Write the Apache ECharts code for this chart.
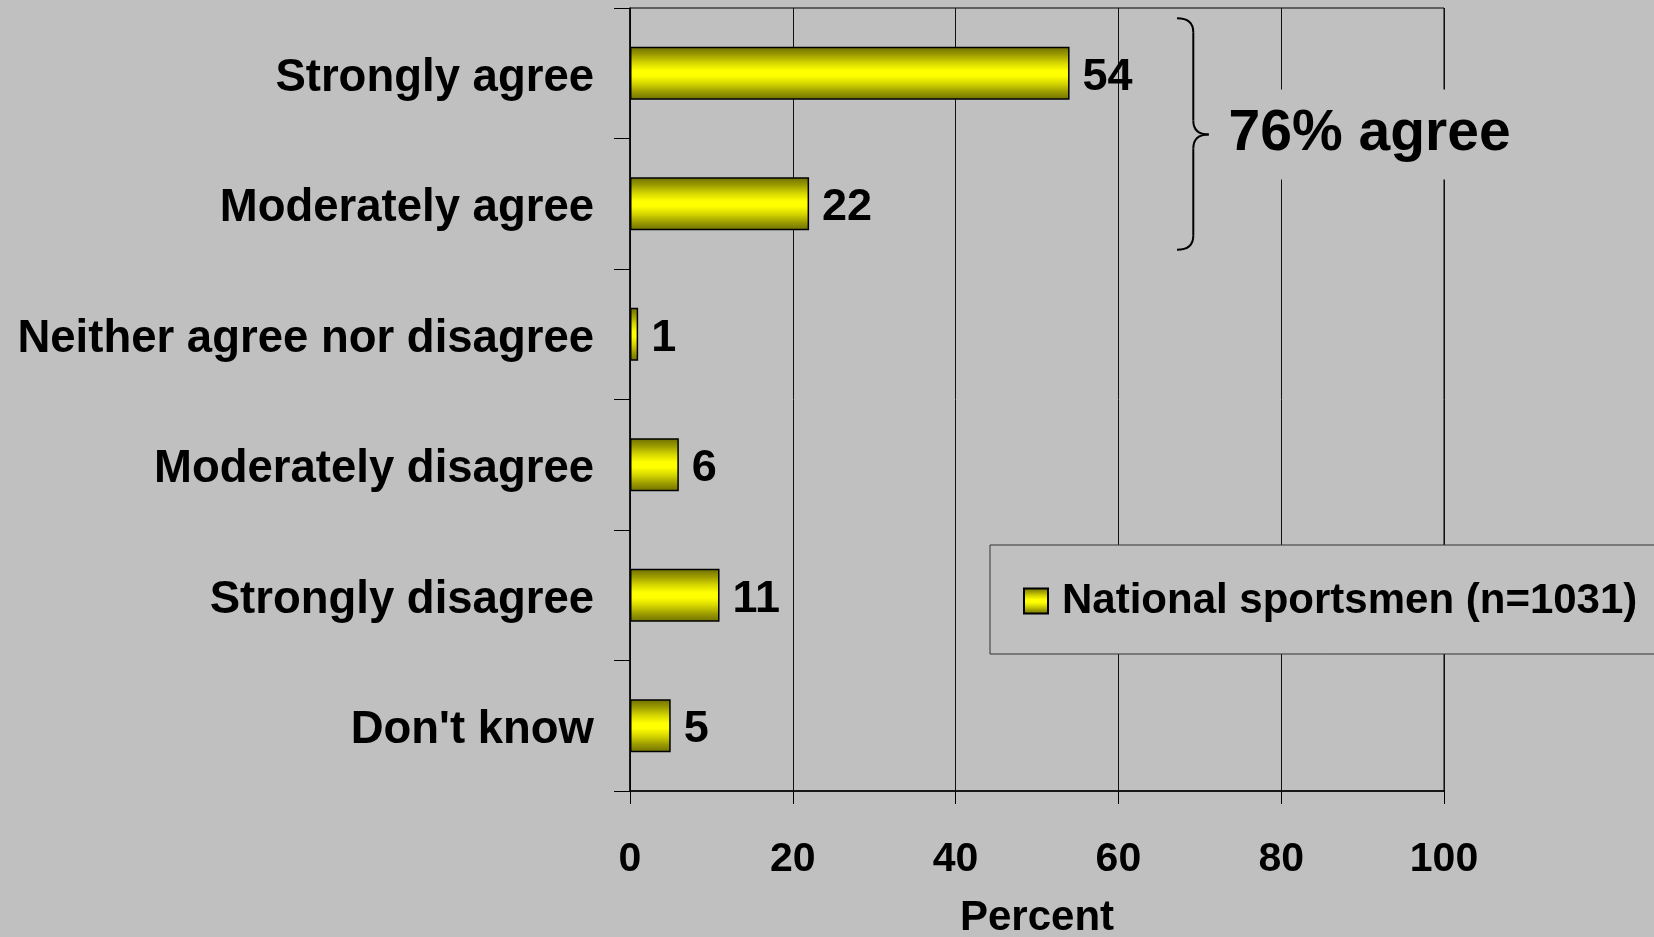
<!DOCTYPE html>
<html>
<head>
<meta charset="utf-8">
<script src="https://cdn.jsdelivr.net/npm/echarts@6/dist/echarts.min.js"></script>
<style>
html,body{margin:0;padding:0;background:#c0c0c0;}
#chart{width:1654px;height:937px;}
</style>
</head>
<body>
<div id="chart"></div>
<script>
const categories = ['Strongly agree', 'Moderately agree', 'Neither agree nor disagree', 'Moderately disagree', 'Strongly disagree', "Don't know"];
const values = [54, 22, 1, 6, 11, 5];
const seriesName = 'National sportsmen (n=1031)';
const xTicks = [0, 20, 40, 60, 80, 100];
const axisName = 'Percent';
const annotationText = '76% agree';

const FONT = '"Liberation Sans", Arial, sans-serif';
const barFill = new echarts.graphic.LinearGradient(0, 0, 0, 1, [
  {offset: 0, color: '#6e6e00'},
  {offset: 0.15, color: '#9c9c00'},
  {offset: 0.3, color: '#d4d400'},
  {offset: 0.45, color: '#ffff00'},
  {offset: 0.55, color: '#ffff00'},
  {offset: 0.7, color: '#d4d400'},
  {offset: 0.85, color: '#9c9c00'},
  {offset: 1, color: '#6e6e00'}
]);

const chart = echarts.init(document.getElementById('chart'), null, {renderer: 'canvas'});
const option = {
  backgroundColor: '#c0c0c0',
  animation: false,
  textStyle: {fontFamily: FONT},
  grid: {
    left: 630, top: 8, right: 210, bottom: 146,
    outerBoundsMode: 'none',
    show: true, borderColor: '#000', borderWidth: 1, backgroundColor: '#c0c0c0'
  },
  legend: {
    left: 990, top: 545,
    padding: [31, 40, 28, 33],
    backgroundColor: '#c0c0c0',
    borderColor: '#333', borderWidth: 1,
    itemWidth: 24, itemHeight: 25,
    icon: 'rect',
    textStyle: {fontSize: 42, fontWeight: 'bold', color: '#000', fontFamily: FONT, padding: [8, 0, 0, 9], lineHeight: 42},
    data: [seriesName]
  },
  xAxis: {
    type: 'value', min: xTicks[0], max: xTicks[xTicks.length - 1], interval: xTicks[1] - xTicks[0],
    name: axisName, nameLocation: 'middle', nameGap: 106,
    nameTextStyle: {fontSize: 42, fontWeight: 'bold', color: '#000', fontFamily: FONT},
    axisLine: {show: true, lineStyle: {color: '#000', width: 1.5}},
    axisTick: {show: true, length: 13, lineStyle: {color: '#000', width: 1}},
    axisLabel: {fontSize: 41, fontWeight: 'bold', color: '#000', margin: 48, fontFamily: FONT},
    splitLine: {show: true, lineStyle: {color: '#111', width: 1}}
  },
  yAxis: {
    type: 'category', data: categories, inverse: true,
    axisLine: {show: true, lineStyle: {color: '#000', width: 1.5}},
    axisTick: {show: true, length: 16, interval: 0, lineStyle: {color: '#000', width: 1}},
    axisLabel: {
      color: '#000', margin: 36,
      formatter: v => '{c|' + v + '}',
      rich: {c: {fontSize: 45.5, fontWeight: 'bold', color: '#000', fontFamily: FONT, lineHeight: 56, verticalAlign: 'bottom'}}
    },
    splitLine: {show: false}
  },
  series: [{
    name: seriesName,
    type: 'bar',
    data: values,
    barWidth: 53,
    itemStyle: {color: barFill, borderColor: '#000', borderWidth: 1.5},
    label: {show: true, position: 'right', distance: 13, offset: [0, 4], fontSize: 45, fontWeight: 'bold', color: '#000', fontFamily: FONT}
  }]
};
chart.setOption(option);

// brace + annotation positioned through the chart's own scales
function drawAnnotation() {
  const p = (x, cat) => chart.convertToPixel({gridIndex: 0}, [x, cat]);
  const c0 = p(67.2, categories[0]);
  const c1 = p(67.2, categories[1]);
  const x0 = c0[0];
  const xm = p(69.2, categories[0])[0];
  const xt = p(71.1, categories[0])[0];
  const yTop = c0[1] - 55;
  const yBot = c1[1] + 46;
  const yMid = (c0[1] + c1[1]) / 2 - 4;
  const r = 14;
  const st = {stroke: '#000', lineWidth: 2, fill: null};
  const tx = p(72.8, categories[0])[0];
  chart.setOption({
    graphic: [
      {type: 'bezierCurve', shape: {x1: x0, y1: yTop, x2: xm, y2: yTop + r, cpx1: xm, cpy1: yTop}, style: st, z: 10},
      {type: 'line', shape: {x1: xm, y1: yTop + r, x2: xm, y2: yMid - r}, style: st, z: 10},
      {type: 'bezierCurve', shape: {x1: xm, y1: yMid - r, x2: xt, y2: yMid, cpx1: xm, cpy1: yMid}, style: st, z: 10},
      {type: 'bezierCurve', shape: {x1: xt, y1: yMid, x2: xm, y2: yMid + r, cpx1: xm, cpy1: yMid}, style: st, z: 10},
      {type: 'line', shape: {x1: xm, y1: yMid + r, x2: xm, y2: yBot - r}, style: st, z: 10},
      {type: 'bezierCurve', shape: {x1: xm, y1: yBot - r, x2: x0, y2: yBot, cpx1: xm, cpy1: yBot}, style: st, z: 10},
      {type: 'text', x: tx, y: yMid, z: 10,
       style: {text: annotationText, font: 'bold 57px ' + FONT, fill: '#000', verticalAlign: 'middle', align: 'left',
               backgroundColor: '#c0c0c0', padding: [16, 6, 16, 6], lineHeight: 58}}
    ]
  });
}
drawAnnotation();
</script>
</body>
</html>
